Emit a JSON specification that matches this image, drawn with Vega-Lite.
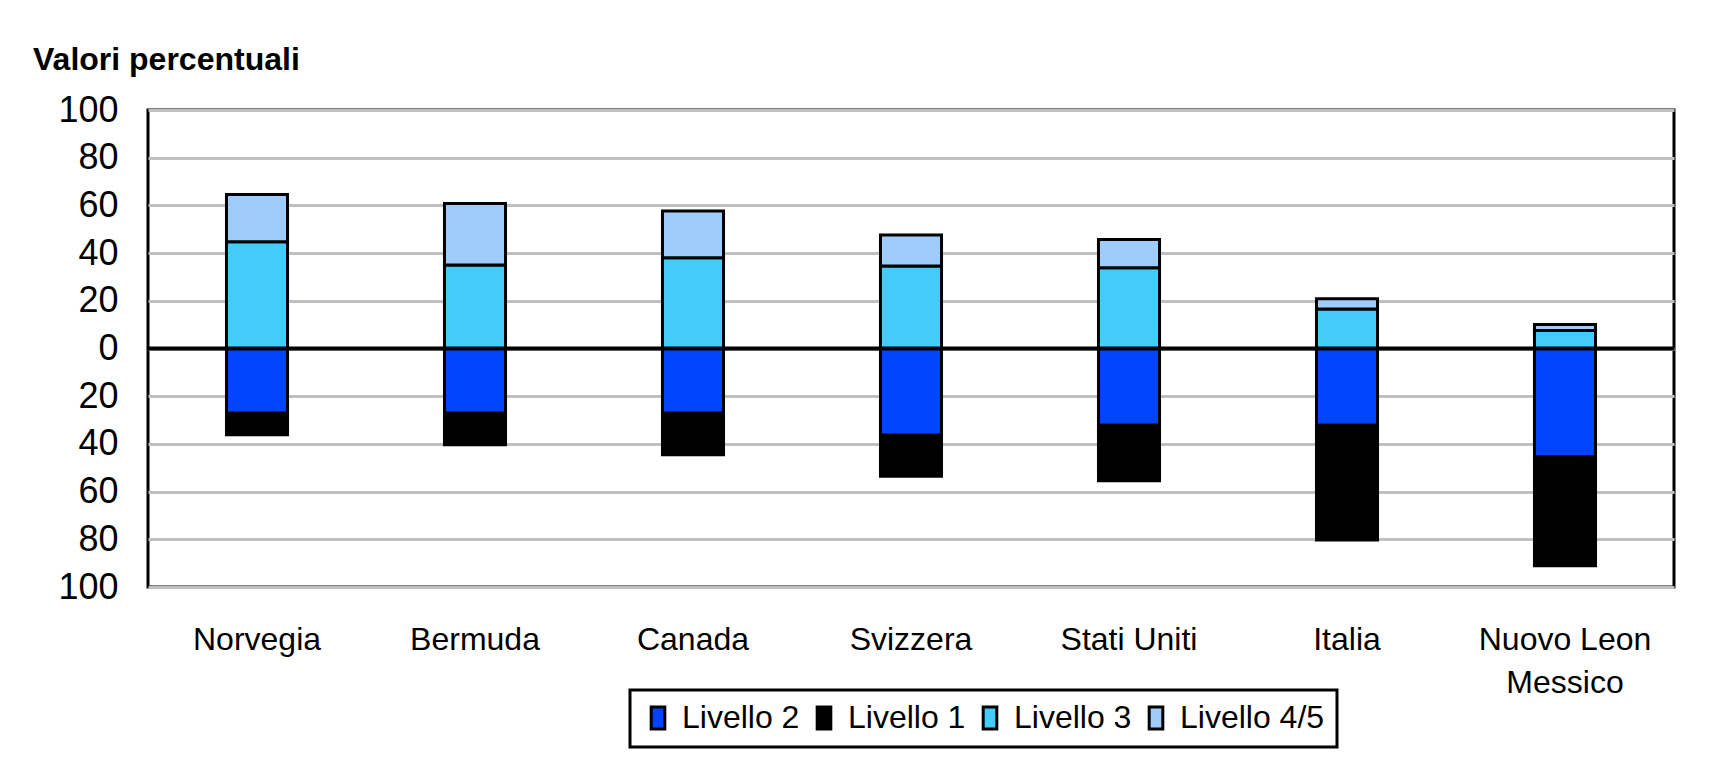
{
  "$schema": "https://vega.github.io/schema/vega-lite/v6.json",
  "width": 1526,
  "height": 477,
  "autosize": {"type": "none"},
  "padding": {"left": 148, "top": 110, "right": 56, "bottom": 177},
  "background": "white",
  "title": {
    "text": "Valori percentuali",
    "anchor": "start",
    "frame": "group",
    "dx": -115,
    "offset": -10,
    "baseline": "alphabetic",
    "fontSize": 32,
    "fontWeight": "bold",
    "font": "Liberation Sans",
    "color": "black"
  },
  "data": {
    "values": [
      {"country": "Norvegia", "level": "Livello 2", "value": -27.2, "ord": 0},
      {"country": "Norvegia", "level": "Livello 1", "value": -9.0, "ord": 2},
      {"country": "Norvegia", "level": "Livello 3", "value": 44.8, "ord": 1},
      {"country": "Norvegia", "level": "Livello 4/5", "value": 19.8, "ord": 3},
      {"country": "Bermuda", "level": "Livello 2", "value": -27.2, "ord": 0},
      {"country": "Bermuda", "level": "Livello 1", "value": -13.2, "ord": 2},
      {"country": "Bermuda", "level": "Livello 3", "value": 35.0, "ord": 1},
      {"country": "Bermuda", "level": "Livello 4/5", "value": 25.8, "ord": 3},
      {"country": "Canada", "level": "Livello 2", "value": -27.1, "ord": 0},
      {"country": "Canada", "level": "Livello 1", "value": -17.4, "ord": 2},
      {"country": "Canada", "level": "Livello 3", "value": 38.1, "ord": 1},
      {"country": "Canada", "level": "Livello 4/5", "value": 19.5, "ord": 3},
      {"country": "Svizzera", "level": "Livello 2", "value": -36.4, "ord": 0},
      {"country": "Svizzera", "level": "Livello 1", "value": -17.2, "ord": 2},
      {"country": "Svizzera", "level": "Livello 3", "value": 34.6, "ord": 1},
      {"country": "Svizzera", "level": "Livello 4/5", "value": 13.0, "ord": 3},
      {"country": "Stati Uniti", "level": "Livello 2", "value": -32.2, "ord": 0},
      {"country": "Stati Uniti", "level": "Livello 1", "value": -23.2, "ord": 2},
      {"country": "Stati Uniti", "level": "Livello 3", "value": 33.9, "ord": 1},
      {"country": "Stati Uniti", "level": "Livello 4/5", "value": 11.8, "ord": 3},
      {"country": "Italia", "level": "Livello 2", "value": -32.2, "ord": 0},
      {"country": "Italia", "level": "Livello 1", "value": -48.1, "ord": 2},
      {"country": "Italia", "level": "Livello 3", "value": 16.6, "ord": 1},
      {"country": "Italia", "level": "Livello 4/5", "value": 4.3, "ord": 3},
      {"country": "Nuovo Leon|Messico", "level": "Livello 2", "value": -45.5, "ord": 0},
      {"country": "Nuovo Leon|Messico", "level": "Livello 1", "value": -45.6, "ord": 2},
      {"country": "Nuovo Leon|Messico", "level": "Livello 3", "value": 7.5, "ord": 1},
      {"country": "Nuovo Leon|Messico", "level": "Livello 4/5", "value": 2.6, "ord": 3}
    ]
  },
  "layer": [
    {
      "mark": {"type": "bar", "stroke": "black", "strokeWidth": 3},
      "encoding": {
        "x": {
          "field": "country",
          "type": "nominal",
          "sort": null,
          "scale": {"paddingInner": 0.72, "paddingOuter": 0.36},
          "axis": {
            "title": null,
            "labelAngle": 0,
            "labelFontSize": 32,
            "labelPadding": 37,
            "labelBaseline": "top",
            "labelLineHeight": 43,
            "labelExpr": "split(datum.label, '|')",
            "ticks": false,
            "domain": false,
            "grid": false
          }
        },
        "y": {
          "field": "value",
          "type": "quantitative",
          "stack": "zero",
          "scale": {"domain": [-100, 100], "nice": false},
          "axis": {
            "title": null,
            "values": [-100, -80, -60, -40, -20, 0, 20, 40, 60, 80, 100],
            "labelExpr": "abs(datum.value)",
            "labelFontSize": 36,
            "labelPadding": 30,
            "labelFlush": false,
            "ticks": false,
            "domain": false,
            "grid": true,
            "gridColor": "#c0c0c0",
            "gridWidth": 3
          }
        },
        "color": {
          "field": "level",
          "type": "nominal",
          "scale": {
            "domain": ["Livello 2", "Livello 1", "Livello 3", "Livello 4/5"],
            "range": ["#0044ff", "#000000", "#44ccf8", "#a0ccfc"]
          },
          "legend": {
            "title": null,
            "orient": "none",
            "legendX": 482,
            "legendY": 580,
            "direction": "horizontal",
            "columns": 4
          }
        },
        "order": {"field": "ord", "type": "quantitative"}
      }
    },
    {
      "data": {"values": [{"z": 0}]},
      "mark": {"type": "rule", "color": "black", "strokeWidth": 4},
      "encoding": {"y": {"field": "z", "type": "quantitative"}}
    }
  ],
  "config": {
    "font": "Liberation Sans",
    "view": {"stroke": "black", "strokeWidth": 3},
    "axis": {"labelFont": "Liberation Sans", "labelColor": "black"},
    "legend": {
      "strokeColor": "black",
      "strokeWidth": 3,
      "fillColor": "white",
      "padding": 12,
      "symbolType": "M-0.62,-1H0.62V1H-0.62Z",
      "symbolSize": 484,
      "symbolStrokeColor": "black",
      "symbolStrokeWidth": 3,
      "symbolOpacity": 1,
      "labelFont": "Liberation Sans",
      "labelFontSize": 32,
      "labelColor": "black",
      "labelOffset": 8,
      "columnPadding": 8
    }
  }
}
